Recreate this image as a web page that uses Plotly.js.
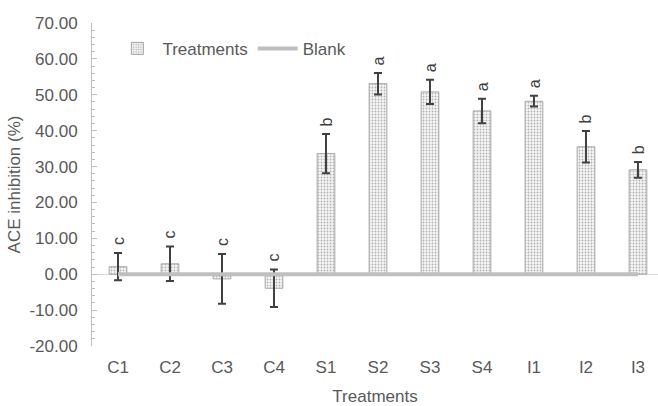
<!DOCTYPE html>
<html>
<head>
<meta charset="utf-8">
<script src="https://cdn.plot.ly/plotly-3.0.1.min.js"></script>
<style>html,body{margin:0;padding:0;background:#fff}#chart{width:658px;height:406px}</style>
</head>
<body>
<div id="chart"></div>
<script>
const categories = ["C1","C2","C3","C4","S1","S2","S3","S4","I1","I2","I3"];
const inhibition = [2.1, 2.9, -1.3, -3.9, 33.6, 53.1, 50.8, 45.5, 48.2, 35.5, 29.1];
const errors = [3.8, 4.8, 6.9, 5.2, 5.5, 3.0, 3.4, 3.4, 1.5, 4.4, 2.2];
const letters = ["c","c","c","c","b","a","a","a","a","b","b"];
const blank = [0,0,0,0,0,0,0,0,0,0,0];
const yTickVals = [-20,-10,0,10,20,30,40,50,60,70];
const yTickText = ["-20.00","-10.00","0.00","10.00","20.00","30.00","40.00","50.00","60.00","70.00"];

const textColor = "#595959";
const font = {family: "Liberation Sans, Arial, sans-serif", size: 17, color: textColor};

const traces = [
  {
    type: "bar", name: "Treatments", x: categories, y: inhibition,
    width: 0.34,
    marker: {
      color: "#f4f4f4",
      line: {color: "#a6a6a6", width: 1},
      pattern: {shape: ".", fgcolor: "#b3b3b3", bgcolor: "#f6f6f6", size: 3, solidity: 0.3}
    },
    error_y: {type: "data", array: errors, visible: true, color: "#404040", thickness: 2, width: 4}
  },
  {
    type: "scatter", mode: "lines", name: "Blank", x: categories, y: blank,
    line: {color: "#bfbfbf", width: 4}
  }
];

const annotations = categories.map((c, i) => ({
  x: c, y: inhibition[i] + errors[i], xref: "x", yref: "y",
  text: letters[i], showarrow: false, textangle: -90,
  yanchor: "bottom", yshift: 6,
  font: {family: font.family, size: 16, color: "#404040"}
}));

const layout = {
  width: 658, height: 406,
  margin: {l: 92, r: 0, t: 23, b: 60},
  paper_bgcolor: "#fff", plot_bgcolor: "#fff",
  font: font,
  showlegend: true,
  legend: {orientation: "h", x: 0.036, y: 0.92, yanchor: "middle", xanchor: "left",
           font: font, bgcolor: "rgba(0,0,0,0)", itemwidth: 40},
  xaxis: {
    type: "category", range: [-0.5, 10.385], showgrid: false, showline: false,
    ticks: "", tickfont: font, ticklabelstandoff: 9, automargin: false,
    title: {text: "Treatments", font: font, standoff: 19}
  },
  yaxis: {
    range: [-20, 70], tickvals: yTickVals, ticktext: yTickText,
    showgrid: false, showline: true, linecolor: "#bfbfbf", linewidth: 1,
    ticks: "inside", ticklen: 5, tickcolor: "#bfbfbf",
    minor: {dtick: 2, ticks: "inside", ticklen: 3, tickcolor: "#bfbfbf"},
    zeroline: true, zerolinecolor: "#d9d9d9", zerolinewidth: 1,
    tickfont: font, ticklabelstandoff: 10, automargin: false,
    title: {text: "ACE inhibition (%)", font: font, standoff: 4}
  },
  annotations: annotations,
  bargap: 0.66
};

Plotly.newPlot("chart", traces, layout, {displayModeBar: false, staticPlot: true});
</script>
</body>
</html>
